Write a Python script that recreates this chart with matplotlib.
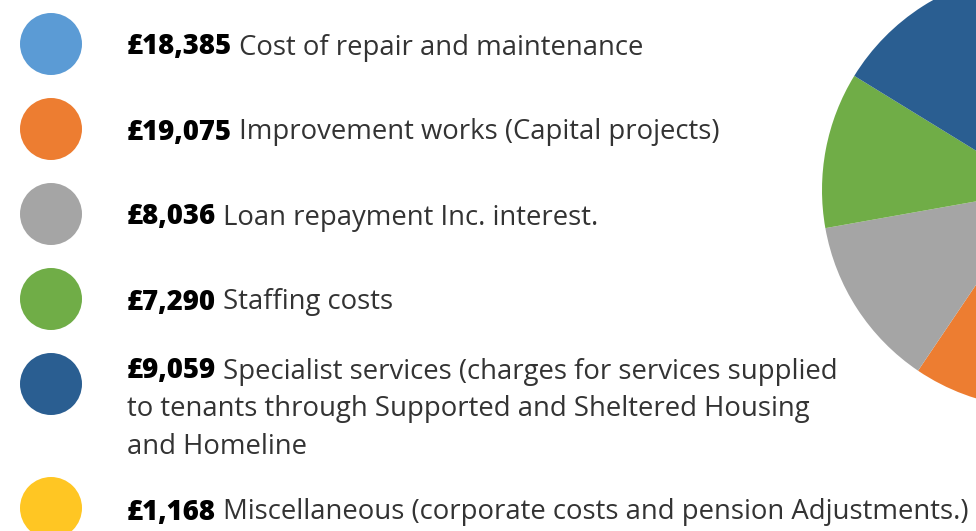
import matplotlib
matplotlib.use("Agg")
import matplotlib.pyplot as plt
from matplotlib.patches import Circle

# spend breakdown, in pounds (thousands as printed)
amounts = [18385, 19075, 8036, 7290, 9059, 1168]
amount_labels = ["£18,385", "£19,075", "£8,036", "£7,290", "£9,059", "£1,168"]
descriptions = [
    "Cost of repair and maintenance",
    "Improvement works (Capital projects)",
    "Loan repayment Inc. interest.",
    "Staffing costs",
    "Specialist services (charges for services supplied\nto tenants through Supported and Sheltered Housing\nand Homeline",
    "Miscellaneous (corporate costs and pension Adjustments.)",
]
colors = ["#5B9BD5", "#ED7D31", "#A5A5A5", "#70AD47", "#2A5E91", "#FFC623"]

W, H = 976, 531
FONT = "Open Sans"
FS = 19.8
fig = plt.figure(figsize=(W / 100, H / 100), dpi=100)

# pie sits mostly off the right edge
cx, cy, r = 1040, 190, 218
pax = fig.add_axes([(cx - r) / W, (H - cy - r) / H, 2 * r / W, 2 * r / H])
pax.pie(amounts, colors=colors, startangle=90, counterclock=False, radius=1,
        wedgeprops=dict(linewidth=0))
pax.set_xlim(-1, 1)
pax.set_ylim(-1, 1)
pax.set_aspect("equal")
pax.axis("off")

# legend column drawn in pixel coords
ax = fig.add_axes([0, 0, 1, 1])
ax.set_xlim(0, W)
ax.set_ylim(H, 0)
ax.axis("off")

dot_y = [44, 129, 214, 299, 384, 508]
text_y = [47, 132, 217, 302, 371, 512]
line_gap = 38
for i in range(len(amounts)):
    ax.add_patch(Circle((51, dot_y[i]), 31, color=colors[i], lw=0))
    lines = descriptions[i].split("\n")
    b = ax.text(127, text_y[i], amount_labels[i], fontsize=FS, fontweight="heavy",
                family=FONT, va="center", ha="left", color="black")
    ax.annotate(" " + lines[0], xy=(1, 0), xycoords=b, va="bottom", ha="left",
                fontsize=FS, family=FONT, color="#333333")
    for k, ln in enumerate(lines[1:], start=1):
        ax.text(127, text_y[i] + k * line_gap, ln, fontsize=FS, family=FONT,
                va="center", ha="left", color="#333333")

fig.savefig("out.png", dpi=100)
plt.close(fig)
